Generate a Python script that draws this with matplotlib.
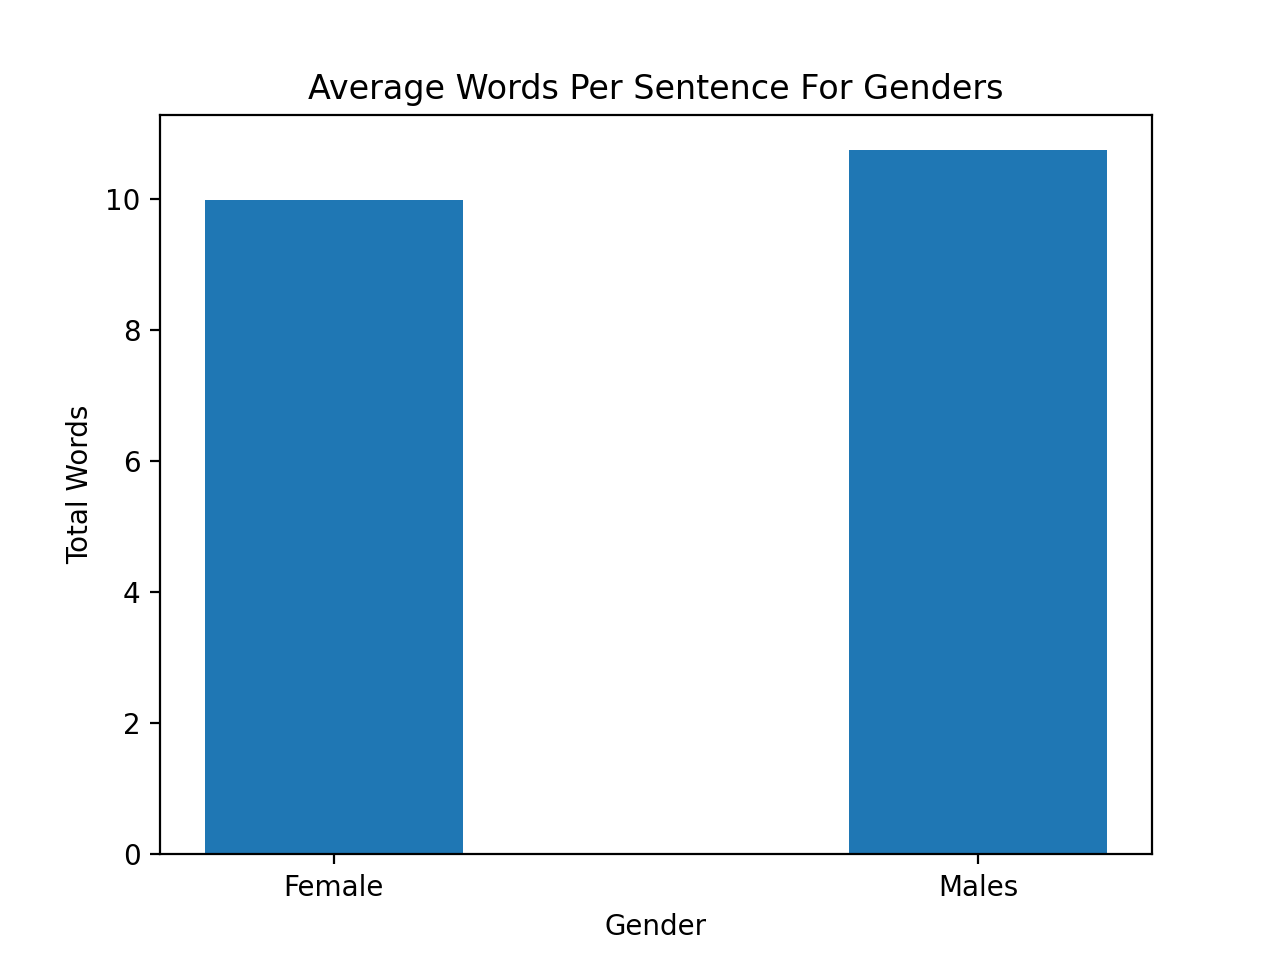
import matplotlib
matplotlib.use("Agg")
import matplotlib.pyplot as plt

genders = ["Female", "Males"]
avg_words = [9.98, 10.74]

plt.figure(figsize = (6.4, 4.8))
plt.bar(genders, avg_words, width = 0.4)
plt.xlabel("Gender")
plt.ylabel("Total Words")
plt.title("Average Words Per Sentence For Genders")
plt.savefig("out.png", dpi = 200)
